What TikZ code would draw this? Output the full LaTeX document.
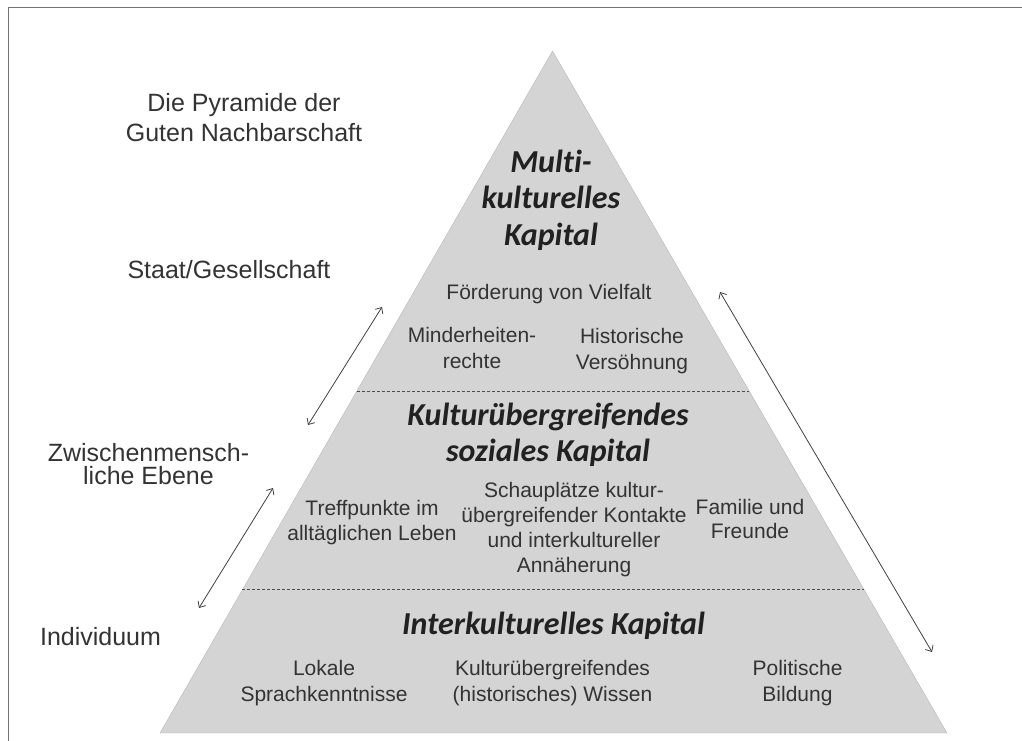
\documentclass[tikz,border=0pt]{standalone}
\usepackage{fontspec}
\setmainfont{Liberation Sans}
\newfontfamily\titlefont[Ligatures=NoCommon]{Carlito}
\usetikzlibrary{calc,arrows.meta,positioning}

\begin{document}
\begin{tikzpicture}[x=1pt,y=-1pt,
  txt/.style={align=center, text=black!80, inner sep=0pt, font=\fontsize{21}{26}\selectfont},
  side/.style={align=center, text=black!80, inner sep=0pt, font=\fontsize{25}{30}\selectfont},
  title/.style={align=center, text=black!87, inner sep=0pt, font=\titlefont\bfseries\itshape\fontsize{32}{36.5}\selectfont},
  level/.style={draw=black!70, dash pattern=on 3pt off 2pt, line width=0.6pt},
  link/.style={draw=black!75, line width=0.8pt, {Straight Barb[length=5pt,width=9pt]}-{Straight Barb[length=5pt,width=9pt]}}]
\useasboundingbox (0,0) rectangle (1022,740);

% frame
\draw[black!55, line width=1pt] (8,7) rectangle (1040,760);

% pyramid
\coordinate (apex) at (552.5,51);
\coordinate (bl) at (160,733);
\coordinate (br) at (947,733);
\fill[black!17, draw=black!28] (apex) -- (bl) -- (br) -- cycle;
\draw[level] ($(apex)!0.4985!(bl)$) -- ($(apex)!0.4985!(br)$);
\draw[level] ($(apex)!0.790!(bl)$) -- ($(apex)!0.790!(br)$);

% labels on the left
\node (pyr) [side] at (244,118) {Die Pyramide der\\Guten Nachbarschaft};
\node (staat) [side] at (229,270) {Staat/Gesellschaft};
\node (zwi) [side, font=\fontsize{25}{23.5}\selectfont] at (148.5,464) {Zwischenmensch-\\liche Ebene};
\node (indi) [side] at (100.5,637) {Individuum};

% top level
\node (multi) [title] at (551,200) {Multi-\\kulturelles\\Kapital};
\node (vielfalt) [txt] at (549,294) {Förderung von Vielfalt};
\node (minder) [txt] at (472,348) {Minderheiten-\\rechte};
\node (versoehn) [txt] at (632,351) {Historische\\Versöhnung};

% middle level
\node (sozial) [title] at (548,435) {Kulturübergreifendes\\soziales Kapital};
\node (treff) [txt, font=\fontsize{21}{25}\selectfont] at (372,522.5) {Treffpunkte im\\alltäglichen Leben};
\node (schau) [txt, font=\fontsize{21}{25}\selectfont] at (574,529.5) {Schauplätze kultur-\\übergreifender Kontakte\\und interkultureller\\Annäherung};
\node (familie) [txt, font=\fontsize{21}{24}\selectfont] at (750,518.5) {Familie und\\Freunde};

% bottom level
\node (inter) [title] at (553.5,626) {Interkulturelles Kapital};
\node (lokal) [txt] at (324,683) {Lokale\\Sprachkenntnisse};
\node (wissen) [txt] at (552.5,683) {Kulturübergreifendes\\(historisches) Wissen};
\node (bildung) [txt] at (797.5,683) {Politische\\Bildung};

% arrows
\coordinate (up1) at (382,307);
\coordinate (dn1) at (308,425);
\coordinate (up2) at (273,488);
\coordinate (dn2) at (199,608);
\coordinate (up3) at (720,292);
\coordinate (dn3) at (932,652);
\draw[link] (up1) -- (dn1);
\draw[link] (up2) -- (dn2);
\draw[link] (up3) -- (dn3);
\end{tikzpicture}
\end{document}
